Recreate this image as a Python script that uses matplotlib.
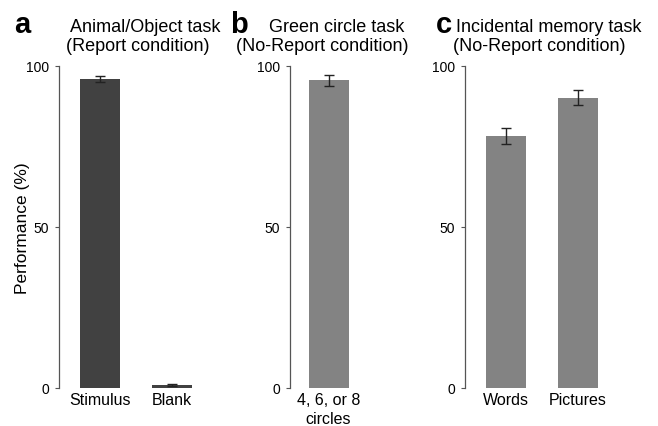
import matplotlib
matplotlib.use("Agg")
import matplotlib.pyplot as plt

plt.rcParams['font.family'] = ['Liberation Sans', 'DejaVu Sans']

# Panel data
a_labels = ["Stimulus", "Blank"]
a_values = [96.0, 0.8]
a_errors = [1.0, 0.3]

b_labels = ["4, 6, or 8\ncircles"]
b_values = [95.5]
b_errors = [1.8]

c_labels = ["Words", "Pictures"]
c_values = [78.3, 90.2]
c_errors = [2.5, 2.3]

W, H = 658, 427
fig = plt.figure(figsize=(W / 100, H / 100), dpi=100)

unit = 72.0  # pixels per category step
bar_w = 40 / unit
y0, y100 = 389, 67


def make_axes(left_px, first_center_px, right_px):
    ax = fig.add_axes([left_px / W, (H - y0) / H, (right_px - left_px) / W, (y0 - y100) / H])
    ax.set_xlim(-(first_center_px - left_px) / unit, (right_px - first_center_px) / unit)
    ax.set_ylim(0, 100)
    for s in ["top", "right", "bottom"]:
        ax.spines[s].set_visible(False)
    ax.spines["left"].set_color("#555555")
    ax.spines["left"].set_linewidth(0.9)
    ax.set_yticks([0, 50, 100])
    ax.tick_params(axis="y", length=3, width=0.8, color="#555555", pad=4, labelsize=10)
    ax.tick_params(axis="x", length=0, pad=3, labelsize=11.5)
    return ax


def draw(ax, labels, values, errors, color):
    x = list(range(len(values)))
    ax.bar(x, values, width=bar_w, color=color)
    ax.errorbar(x, values, yerr=errors, fmt="none", ecolor="#222222",
                elinewidth=1.0, capsize=3.5, capthick=1.0)
    ax.set_xticks(x)
    ax.set_xticklabels(labels, linespacing=1.35)


ax_a = make_axes(59, 100, 230)
draw(ax_a, a_labels, a_values, a_errors, "#414141")
ax_a.set_ylabel("Performance (%)", fontsize=12.5, labelpad=-3)

ax_b = make_axes(290, 328.5, 410)
draw(ax_b, b_labels, b_values, b_errors, "#838383")

ax_c = make_axes(465, 505.5, 640)
draw(ax_c, c_labels, c_values, c_errors, "#838383")

# titles, two lines each
def title(x1, x2, l1, l2):
    fig.text(x1 / W, 1 - 32 / H, l1, ha="center", va="baseline", fontsize=13)
    fig.text(x2 / W, 1 - 51 / H, l2, ha="center", va="baseline", fontsize=13)


title(145, 138, "Animal/Object task", "(Report condition)")
title(337, 322, "Green circle task", "(No-Report condition)")
title(549, 539, "Incidental memory task", "(No-Report condition)")

for x, letter in [(14, "a"), (230, "b"), (436, "c")]:
    fig.text(x / W, 1 - 33 / H, letter, ha="left", va="baseline",
             fontsize=21, fontweight="bold")

fig.savefig("out.png", dpi=100)
